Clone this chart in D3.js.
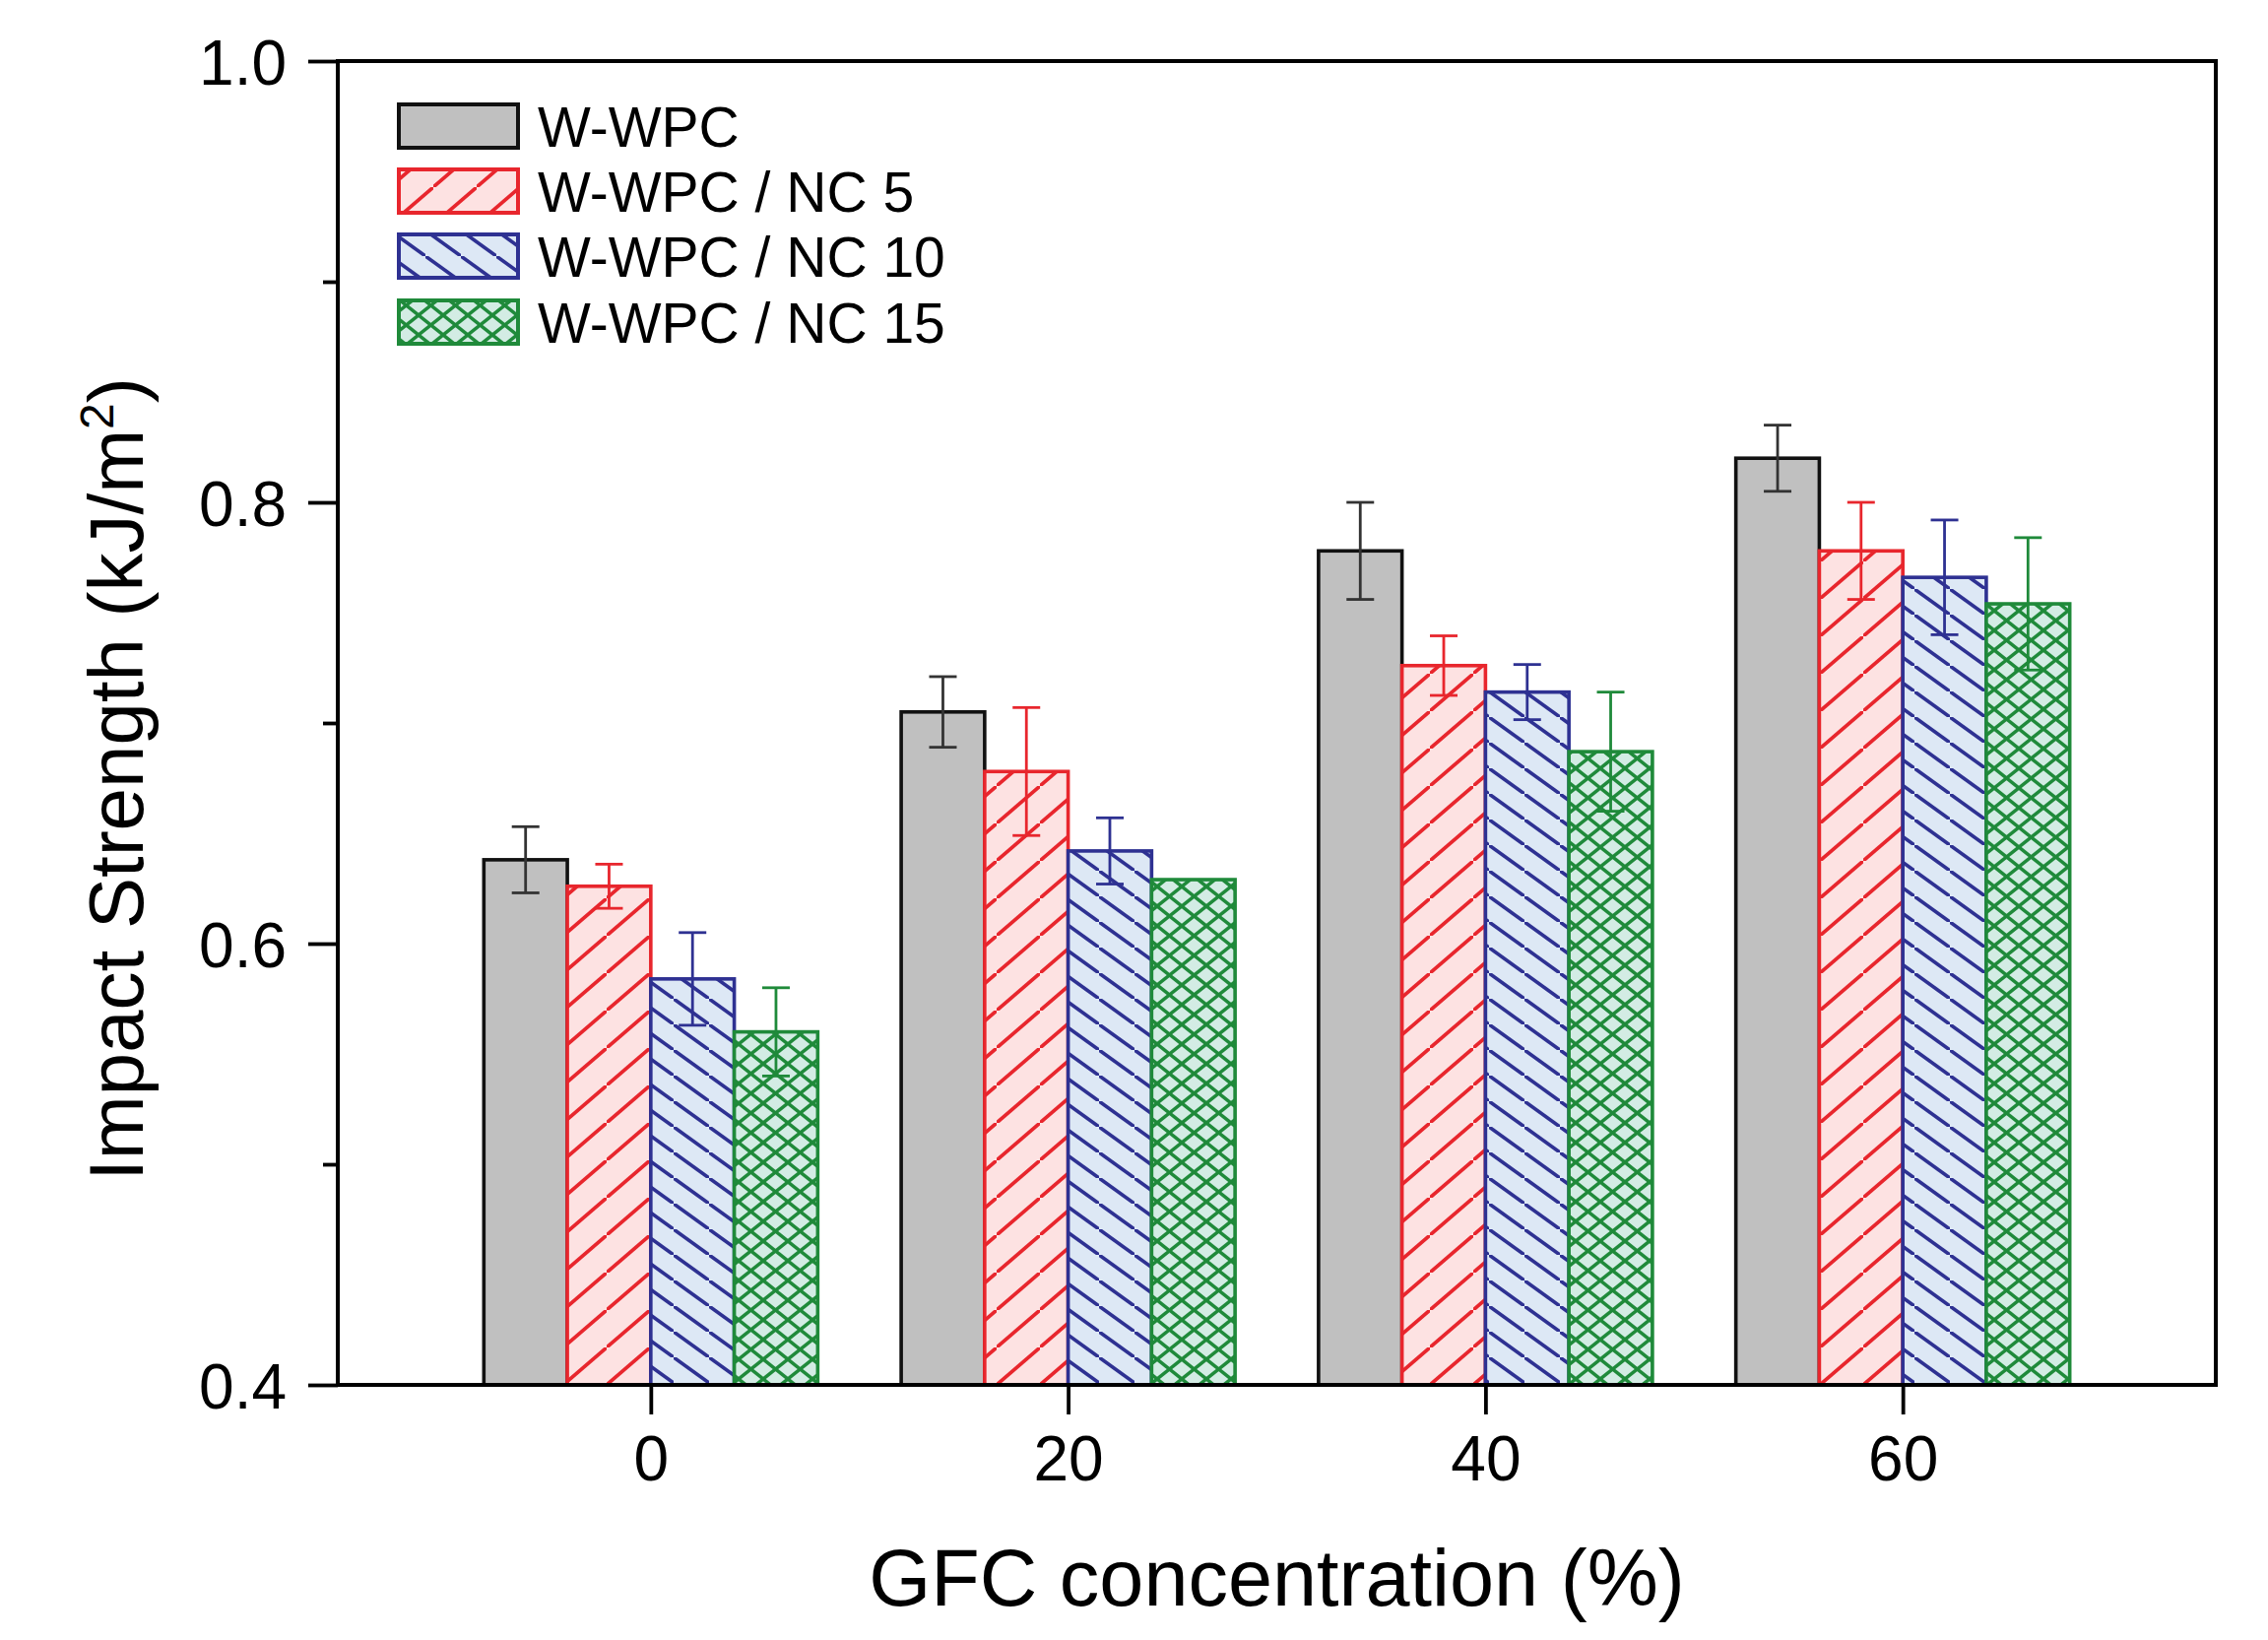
<!DOCTYPE html>
<html>
<head>
<meta charset="utf-8">
<script src="https://cdn.jsdelivr.net/npm/d3@7"></script>
<style>
  html, body { margin: 0; padding: 0; background: #fff; }
  svg { display: block; }
  text { font-family: "Liberation Sans", Arial, Helvetica, sans-serif; fill: #000; }
</style>
</head>
<body>
<script>
// ---------------- data ----------------
const categories = [0, 20, 40, 60];
const seriesNames = ["W-WPC", "W-WPC / NC 5", "W-WPC / NC 10", "W-WPC / NC 15"];
const wwpc     = [0.638, 0.705, 0.778, 0.820];
const wwpcErr  = [0.015, 0.016, 0.022, 0.015];
const nc5      = [0.626, 0.678, 0.726, 0.778];
const nc5Err   = [0.010, 0.029, 0.0135, 0.022];
const nc10     = [0.584, 0.642, 0.714, 0.766];
const nc10Err  = [0.021, 0.015, 0.0125, 0.026];
const nc15     = [0.560, 0.629, 0.687, 0.754];
const nc15Err  = [0.020, 0.000, 0.027, 0.030];
const yMajorTicks = [0.4, 0.6, 0.8, 1.0];
const yMinorTicks = [0.5, 0.7, 0.9];
const xTicks = [0, 20, 40, 60];
const xTitle = "GFC concentration (%)";
const yTitle = "Impact Strength (kJ/m";

// ---------------- layout / styles ----------------
const W = 2303, H = 1665;
const mLeft = 343, mRight = 2250, mTop = 62, mBottom = 1406;
const seriesVals = [wwpc, nc5, nc10, nc15];
const seriesErrs = [wwpcErr, nc5Err, nc10Err, nc15Err];
const strokeCols = ["#111111", "#e8262d", "#2e3192", "#1f8a3a"];
const errCols    = ["#333333", "#e8262d", "#2e3192", "#1f8a3a"];
const fillCols   = ["#c0c0c0", "#fde2e2", "#dde8f5", "#d3ece4"];
const barUnits = 4;
const offsets = [-8, -4, 0, 4];

const svg = d3.select("body").append("svg").attr("width", W).attr("height", H);
const defs = svg.append("defs");

// patterns
function linePattern(id, tw, th, col, bg, dir, sw) {
  const p = defs.append("pattern").attr("id", id)
    .attr("patternUnits", "userSpaceOnUse").attr("width", tw).attr("height", th);
  p.append("rect").attr("width", tw).attr("height", th).attr("fill", bg);
  const segs = dir === "up" ? [[-tw, 2*th, 2*tw, -th]]
             : dir === "down" ? [[-tw, -th, 2*tw, 2*th]]
             : [[-tw, 2*th, 2*tw, -th], [-tw, -th, 2*tw, 2*th]];
  segs.forEach(s => p.append("line").attr("x1", s[0]).attr("y1", s[1]).attr("x2", s[2]).attr("y2", s[3])
    .attr("stroke", col).attr("stroke-width", sw));
}
defs.append("pattern").attr("id", "p0").attr("patternUnits", "userSpaceOnUse")
  .attr("width", 10).attr("height", 10)
  .append("rect").attr("width", 10).attr("height", 10).attr("fill", fillCols[0]);
linePattern("p1", 44, 38, strokeCols[1], fillCols[1], "up", 3.6);
linePattern("p2", 36, 26, strokeCols[2], fillCols[2], "down", 3.6);
linePattern("p3", 25, 20, strokeCols[3], fillCols[3], "cross", 3.4);

const x = d3.scaleLinear().domain([-15, 75]).range([mLeft, mRight]);
const y = d3.scaleLinear().domain([0.4, 1.0]).range([mBottom, mTop]);

// bars
seriesVals.forEach((vals, s) => {
  const g = svg.append("g");
  g.selectAll("rect").data(categories).enter().append("rect")
    .attr("x", (c) => x(c + offsets[s]))
    .attr("y", (c, i) => y(vals[i]))
    .attr("width", (c) => x(c + offsets[s] + barUnits) - x(c + offsets[s]))
    .attr("height", (c, i) => y(0.4) - y(vals[i]))
    .attr("fill", `url(#p${s})`)
    .attr("stroke", strokeCols[s]).attr("stroke-width", 3.6);
});

// error bars
const capHalf = 14;
seriesVals.forEach((vals, s) => {
  const errs = seriesErrs[s];
  const g = svg.append("g").attr("stroke", errCols[s]).attr("stroke-width", 2.8).attr("fill", "none");
  categories.forEach((c, i) => {
    if (!errs[i]) return;
    const cx = x(c + offsets[s] + barUnits / 2);
    const y1 = y(vals[i] + errs[i]), y2 = y(vals[i] - errs[i]);
    g.append("line").attr("x1", cx).attr("x2", cx).attr("y1", y1).attr("y2", y2);
    g.append("line").attr("x1", cx - capHalf).attr("x2", cx + capHalf).attr("y1", y1).attr("y2", y1);
    g.append("line").attr("x1", cx - capHalf).attr("x2", cx + capHalf).attr("y1", y2).attr("y2", y2);
  });
});

// axes
const yAxis = d3.axisLeft(y).tickValues(yMajorTicks).tickFormat(d3.format(".1f")).tickSize(30).tickPadding(22);
const yAxisMinor = d3.axisLeft(y).tickValues(yMinorTicks).tickFormat("").tickSize(15);
const xAxis = d3.axisBottom(x).tickValues(xTicks).tickFormat(d3.format("d")).tickSize(30).tickPadding(22);

const gy = svg.append("g").attr("transform", `translate(${mLeft},0)`).call(yAxis);
svg.append("g").attr("transform", `translate(${mLeft},0)`).call(yAxisMinor).select(".domain").remove();
const gx = svg.append("g").attr("transform", `translate(0,${mBottom})`).call(xAxis);
[gy, gx].forEach(g => {
  g.select(".domain").remove();
  g.selectAll(".tick text").style("font-size", "64px").attr("fill", "#000");
});
svg.selectAll(".tick line").attr("stroke", "#000").attr("stroke-width", 3.8);
gy.selectAll(".tick text").attr("dy", "0.36em");
gx.selectAll(".tick text").attr("dy", "0.71em");

// frame
svg.append("rect").attr("x", mLeft).attr("y", mTop).attr("width", mRight - mLeft).attr("height", mBottom - mTop)
  .attr("fill", "none").attr("stroke", "#000").attr("stroke-width", 4);

// axis titles
svg.append("text").attr("x", (mLeft + mRight) / 2).attr("y", 1630)
  .attr("text-anchor", "middle").style("font-size", "81px").text(xTitle);
const yt = svg.append("text").attr("transform", "translate(145,791) rotate(-90)")
  .attr("text-anchor", "middle").style("font-size", "78px");
yt.append("tspan").text(yTitle);
yt.append("tspan").attr("dy", -30).style("font-size", "48px").text("2");
yt.append("tspan").attr("dy", 30).text(")");

// legend
const legTop = [106, 172, 238, 305];
const leg = svg.append("g");
seriesNames.forEach((name, s) => {
  leg.append("rect").attr("x", 405).attr("y", legTop[s]).attr("width", 121).attr("height", 44)
    .attr("fill", `url(#p${s})`).attr("stroke", strokeCols[s]).attr("stroke-width", 4);
  leg.append("text").attr("x", 546).attr("y", legTop[s] + 22).attr("dy", "0.36em")
    .style("font-size", "57px").text(name);
});
</script>
</body>
</html>
